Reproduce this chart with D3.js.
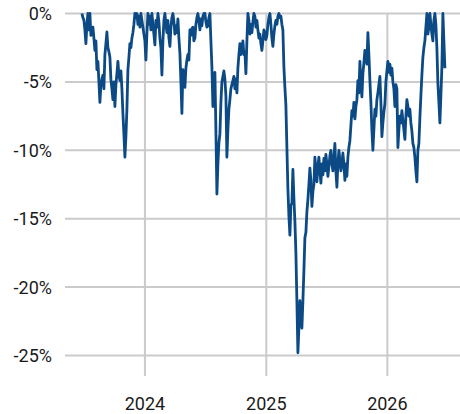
<!DOCTYPE html>
<html>
<head>
<meta charset="utf-8">
<script src="https://cdn.jsdelivr.net/npm/d3@7"></script>
<style>
  html, body { margin: 0; padding: 0; background: #ffffff; }
  svg { display: block; }
  text { font-family: Roboto, "Noto Sans", sans-serif; fill: #1a1a1a; }
</style>
</head>
<body>
<svg id="chart" width="460" height="414"></svg>
<script>
// ---- data ----
const startDate = "2023-06-25";   // first observation
const stepDays = 3.015;           // spacing between observations (days)
const drawdown = [
  0,-0.3,-0.5,-1.2,-2.2,-0.8,0,-1.2,0,-1.6,
  -1.2,-1.0,-1.8,-2.7,-2.0,-4.1,-3.5,-5.0,-6.5,-5.2,
  -4.8,-4.5,-5.5,-3.0,-2.2,-1.35,-2.5,-2.8,-3.2,-4.8,
  -5.5,-6.3,-5.0,-6.8,-5.2,-4.4,-3.5,-4.5,-4.9,-4.2,
  -5.5,-7.3,-8.8,-10.5,-9.0,-7.0,-4.1,-3.2,-2.2,-2.5,
  -1.8,-1.4,-0.8,0,-0.3,0,-0.8,-0.2,-1.0,0,
  -0.5,-1.0,-1.5,-2.0,-3.4,-1.5,0,-0.8,-0.2,-1.2,
  0,-0.8,-1.5,-2.3,-0.5,-1.0,0,-0.6,-1.8,-2.5,
  -4.5,-2.0,-0.5,0,-0.8,-1.4,-0.5,-1.8,-2.4,-1.0,
  -0.3,0,-0.6,-1.5,-0.9,-1.4,-0.4,-1.8,-2.9,-5.0,
  -7.3,-4.1,-5.0,-5.4,-4.0,-3.4,-3.0,-3.4,-1.2,-1.6,
  -1.1,-1.0,-2.0,-1.8,-0.8,-0.3,0,-0.5,-1.2,-0.4,
  -0.9,-0.2,0,0,-0.6,-1.0,-0.9,-0.3,0,-2.0,
  -3.9,-6.8,-5.0,-4.3,-8.5,-13.2,-11.0,-9.5,-8.8,-6.5,
  -5.0,-4.6,-4.2,-4.8,-6.0,-10.5,-8.5,-7.0,-6.3,-5.5,
  -5.2,-4.9,-4.6,-5.5,-4.8,-5.8,-4.0,-3.0,-2.2,-3.0,
  -2.5,-2.0,-3.0,-2.8,-4.4,-2.0,0,-0.5,-1.5,-0.8,
  -1.4,-0.6,0,-0.2,-1.0,-0.5,-1.2,-1.8,-1.5,-2.2,
  -2.7,-2.0,-1.2,-1.4,-1.9,-1.6,-0.8,-0.3,0,-0.8,
  -1.8,-2.4,-1.5,-0.9,-0.5,-0.8,-0.2,0,-0.3,-0.2,
  -0.8,-1.2,-3.9,-5.4,-6.7,-9.8,-12.8,-14.8,-16.2,-14.0,
  -13.9,-11.4,-13.5,-15.2,-17.5,-21.0,-24.8,-23.0,-21.0,-22.0,
  -23.0,-21.0,-18.8,-16.4,-16.0,-14.5,-13.6,-12.5,-11.3,-12.2,
  -14.1,-13.0,-12.5,-10.5,-11.4,-12.3,-11.2,-10.5,-11.5,-12.4,
  -11.0,-11.8,-10.6,-11.5,-10.3,-11.0,-11.9,-11.2,-10.4,-10.0,
  -11.0,-11.5,-10.5,-9.5,-11.5,-12.7,-11.0,-10.0,-10.7,-11.5,
  -11.0,-10.2,-11.0,-12.2,-11.0,-11.9,-10.5,-9.8,-9.3,-8.2,
  -7.1,-7.5,-6.5,-7.7,-6.8,-6.3,-4.9,-5.8,-3.5,-5.0,
  -6.1,-4.4,-3.6,-2.7,-3.2,-3.7,-1.4,-3.0,-4.9,-6.5,
  -8.5,-10.0,-8.5,-7.0,-7.5,-6.3,-5.8,-5.2,-4.6,-6.5,
  -9.0,-8.0,-7.2,-6.6,-5.0,-4.2,-3.5,-4.3,-3.7,-4.5,
  -4.0,-5.0,-5.5,-6.8,-5.2,-5.5,-9.8,-8.5,-7.5,-8.0,
  -7.1,-7.8,-8.5,-9.2,-7.5,-6.3,-6.8,-7.5,-7.0,-8.0,
  -8.6,-9.5,-9.8,-10.5,-11.5,-12.3,-10.0,-9.5,-7.6,-6.0,
  -4.5,-3.2,-2.5,-2.0,-1.0,0,-1.5,-1.0,0,-0.8,
  -1.5,-2.0,-0.5,0,-0.8,-2.5,-5.1,-6.5,-8.0,-6.0,
  -3.9,0,-2.0,-4.0
];
const yTicks = [0, -5, -10, -15, -20, -25];
const xTickYears = ["2024", "2025", "2026"];
const xDomain = ["2023-05-05", "2026-08-08"];
const yDomain = [-26.5, 0];

// ---- build ----
(function () {
  const parse = d3.timeParse("%Y-%m-%d");
  const start = parse(startDate);
  const series = drawdown.map((v, i) => ({
    date: d3.timeHour.offset(start, Math.round(i * stepDays * 24)),
    value: v
  }));

  const svg = d3.select("#chart");
  const mLeft = 65, mRight = 460, mTop = 13.5, mBottom = 376;

  const x = d3.scaleTime().domain(xDomain.map(parse)).range([mLeft, mRight]);
  const y = d3.scaleLinear().domain(yDomain).range([mBottom, mTop]);

  const gridColor = "#cbcbcb";

  // horizontal gridlines
  svg.append("g").selectAll("line").data(yTicks).join("line")
    .attr("x1", mLeft).attr("x2", mRight)
    .attr("y1", d => y(d)).attr("y2", d => y(d))
    .attr("stroke", gridColor).attr("stroke-width", 2);

  // vertical gridlines
  const yearDates = xTickYears.map(t => d3.timeParse("%Y")(t));
  svg.append("g").selectAll("line").data(yearDates).join("line")
    .attr("x1", d => x(d)).attr("x2", d => x(d))
    .attr("y1", mTop).attr("y2", mBottom)
    .attr("stroke", gridColor).attr("stroke-width", 2);

  // y labels
  svg.append("g").selectAll("text").data(yTicks).join("text")
    .attr("x", 52).attr("y", d => y(d)).attr("dy", "0.36em")
    .attr("text-anchor", "end").attr("font-size", 18)
    .text(d => d + "%");

  // x labels
  svg.append("g").selectAll("text").data(yearDates).join("text")
    .attr("x", d => x(d)).attr("y", 410)
    .attr("text-anchor", "middle").attr("font-size", 18)
    .text((d, i) => xTickYears[i]);

  // line
  const line = d3.line().x(d => x(d.date)).y(d => y(d.value));
  svg.append("path").datum(series)
    .attr("d", line)
    .attr("fill", "none")
    .attr("stroke", "#0c4a86")
    .attr("stroke-width", 2.8)
    .attr("stroke-linejoin", "round");
})();
</script>
</body>
</html>
